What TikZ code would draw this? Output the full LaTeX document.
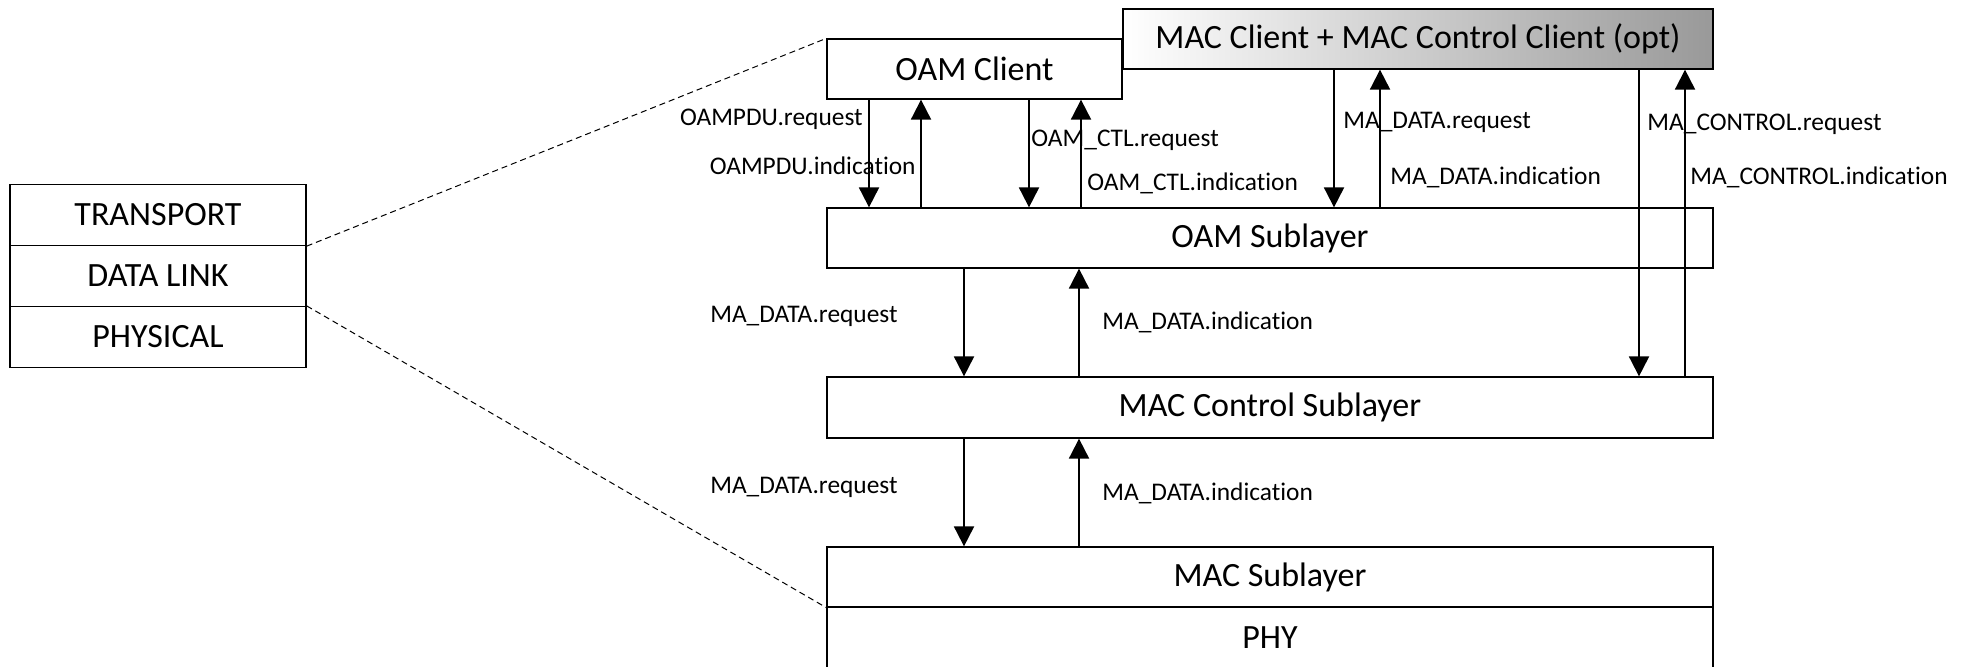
\documentclass[tikz,border=0pt]{standalone}
\usepackage{fontspec}
\setmainfont{Carlito}[Ligatures=NoCommon]
\usetikzlibrary{arrows.meta}
\tikzset{
	layer/.style={
			draw, line width=0.65pt, inner sep=0pt,
			font=\fontsize{17}{20}\selectfont
		},
	prim/.style={line width=1pt, -{Triangle[length=10pt,width=10pt]}},
	primlabel/.style={inner sep=1pt, font=\fontsize{12.7}{15}\selectfont},
	zoomline/.style={dashed, line width=0.5pt, dash pattern=on 3pt off 2pt}
}

\begin{document}
\begin{tikzpicture}[x=0.5pt, y=-0.5pt]
			\useasboundingbox (0,0) rectangle (1973,666);

			% OSI stack on the left
			\node[layer, minimum width=148pt, minimum height=30.5pt] (transport) at (158,215) {TRANSPORT};
			\node[layer, minimum width=148pt, minimum height=30.5pt] (datalink) at (158,276) {DATA LINK};
			\node[layer, minimum width=148pt, minimum height=30.5pt] (physical) at (158,337) {PHYSICAL};

			% clients
			\node[layer, minimum width=147.5pt, minimum height=30pt] (oamclient) at (974.5,69) {OAM Client};
			\node[layer, minimum width=295pt, minimum height=30pt, left color=white, right color=black!40] (macclient) at (1418,39) {MAC Client + MAC Control Client (opt)};

			% sublayers
			\node[layer, minimum width=443pt, minimum height=30pt] (oamsub) at (1270,238) {OAM Sublayer};
			\node[layer, minimum width=443pt, minimum height=30.5pt] (macctl) at (1270,407.5) {MAC Control Sublayer};
			\node[layer, minimum width=443pt, minimum height=30pt] (macsub) at (1270,577) {MAC Sublayer};
			\node[layer, minimum width=443pt, minimum height=31pt] (phy) at (1270,638) {PHY};

			% zoom lines
			\draw[zoomline] (transport.south east) -- (oamclient.north west);
			\draw[zoomline] (physical.north east) -- (macsub.south west);

			% requests (down)
			\draw[prim] (869,0 |- oamclient.south) -- (869,0 |- oamsub.north);
			\draw[prim] (1029,0 |- oamclient.south) -- (1029,0 |- oamsub.north);
			\draw[prim] (1334,0 |- macclient.south) -- (1334,0 |- oamsub.north);
			\draw[prim] (1639,0 |- macclient.south) -- (1639,0 |- macctl.north);
			\draw[prim] (964,0 |- oamsub.south) -- (964,0 |- macctl.north);
			\draw[prim] (964,0 |- macctl.south) -- (964,0 |- macsub.north);

			% indications (up)
			\draw[prim] (921,0 |- oamsub.north) -- (921,0 |- oamclient.south);
			\draw[prim] (1081,0 |- oamsub.north) -- (1081,0 |- oamclient.south);
			\draw[prim] (1380,0 |- oamsub.north) -- (1380,0 |- macclient.south);
			\draw[prim] (1685,0 |- macctl.north) -- (1685,0 |- macclient.south);
			\draw[prim] (1079,0 |- macctl.north) -- (1079,0 |- oamsub.south);
			\draw[prim] (1079,0 |- macsub.north) -- (1079,0 |- macctl.south);

			% primitive names
			\node[primlabel, anchor=east] (oampdureq) at (865,119) {OAMPDU.request};
			\node[primlabel, anchor=east] (oampduind) at (918,166) {OAMPDU.indication};
			\node[primlabel, anchor=west] (oamctlreq) at (1029,140) {OAM\_CTL.request};
			\node[primlabel, anchor=west] (oamctlind) at (1085,183) {OAM\_CTL.indication};
			\node[primlabel, anchor=west] (clientreq) at (1341,122) {MA\_DATA.request};
			\node[primlabel, anchor=west] (clientind) at (1388,177) {MA\_DATA.indication};
			\node[primlabel, anchor=west] (ctlreq) at (1645,124) {MA\_CONTROL.request};
			\node[primlabel, anchor=west] (ctlind) at (1688,177) {MA\_CONTROL.indication};
			\node[primlabel, anchor=east] (oamsubreq) at (900,316) {MA\_DATA.request};
			\node[primlabel, anchor=west] (oamsubind) at (1100,322) {MA\_DATA.indication};
			\node[primlabel, anchor=east] (macctlreq) at (900,487) {MA\_DATA.request};
			\node[primlabel, anchor=west] (macctlind) at (1100,493) {MA\_DATA.indication};
		\end{tikzpicture}
\end{document}
